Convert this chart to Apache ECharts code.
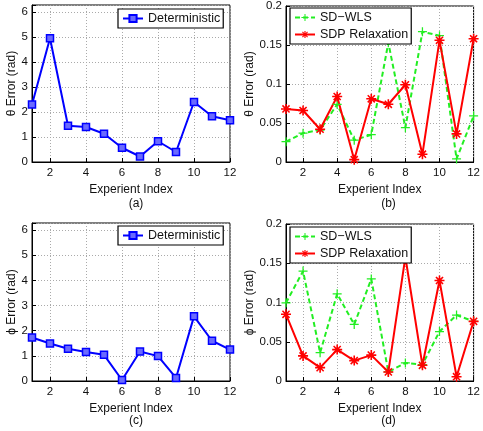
<!DOCTYPE html>
<html>
<head>
<meta charset="utf-8">
<script src="https://cdn.jsdelivr.net/npm/echarts@6/dist/echarts.min.js"></script>
<style>
  html, body { margin: 0; padding: 0; background: #fff; }
  #chart { width: 483px; height: 431px; }
</style>
</head>
<body>
<div id="chart"></div>
<script>
// data
var idx = ['1','2','3','4','5','6','7','8','9','10','11','12'];
var thetaDet = [2.3, 4.95, 1.45, 1.4, 1.13, 0.57, 0.22, 0.83, 0.4, 2.4, 1.83, 1.67];
var thetaWls = [0.026, 0.037, 0.041, 0.074, 0.028, 0.035, 0.153, 0.044, 0.167, 0.162, 0.004, 0.059];
var thetaSdp = [0.068, 0.066, 0.042, 0.084, 0.003, 0.081, 0.074, 0.099, 0.010, 0.156, 0.036, 0.158];
var phiDet = [1.73, 1.49, 1.28, 1.15, 1.04, 0.04, 1.17, 0.99, 0.12, 2.57, 1.6, 1.25];
var phiWls = [0.0996, 0.14, 0.036, 0.111, 0.072, 0.13, 0.0115, 0.023, 0.021, 0.063, 0.084, 0.076];
var phiSdp = [0.085, 0.032, 0.017, 0.040, 0.026, 0.033, 0.0115, 0.158, 0.020, 0.128, 0.0055, 0.076];
var captions = ['(a)', '(b)', '(c)', '(d)'];

var FONT = 'Liberation Sans, Arial, sans-serif';
var plusPath = 'path://M4.3,0H5.7V4.3H10V5.7H5.7V10H4.3V5.7H0V4.3H4.3Z';
var starPath = 'path://M4.2,0H5.8V3.1L8,0.9 9.1,2 6.9,4.2H10V5.8H6.9L9.1,8 8,9.1 5.8,6.9V10H4.2V6.9L2,9.1 0.9,8 3.1,5.8H0V4.2H3.1L0.9,2 2,0.9 4.2,3.1Z';

// grid boxes (a) (b) (c) (d)
var grids = [
  {left: 32, top: 5, width: 198, height: 157},
  {left: 286, top: 5, width: 195, height: 157},
  {left: 32, top: 223, width: 198, height: 158},
  {left: 286, top: 224, width: 195, height: 157}
];

var dotted = {show: true, lineStyle: {color: '#aaa', type: [1, 2], width: 1}};
var evenOnly = function (i) { return i % 2 === 1; };

var xAxes = grids.map(function (g, k) {
  return {
    gridIndex: k, type: 'category', data: idx, boundaryGap: false,
    name: 'Experient Index', nameLocation: 'middle', nameGap: 22,
    nameTextStyle: {fontFamily: FONT, fontSize: 12, color: '#111'},
    axisLine: {lineStyle: {color: '#000', width: 1}},
    axisTick: {inside: true, length: 4, interval: evenOnly, lineStyle: {color: '#000'}},
    axisLabel: {interval: evenOnly, fontFamily: FONT, fontSize: 11.5, color: '#111', margin: 5},
    splitLine: {show: true, interval: evenOnly, lineStyle: dotted.lineStyle}
  };
});

function yAxis(k, max, interval, name, gap) {
  return {
    gridIndex: k, type: 'value', min: 0, max: max, interval: interval,
    name: name, nameLocation: 'middle', nameGap: gap,
    nameTextStyle: {fontFamily: FONT, fontSize: 12, color: '#111'},
    axisLine: {show: true, lineStyle: {color: '#000', width: 1}},
    axisTick: {show: true, inside: true, length: 4, lineStyle: {color: '#000'}},
    axisLabel: {
      fontFamily: FONT, fontSize: 11.5, color: '#111', margin: 4,
      formatter: function (v) {
        var r = Math.round(v / interval);
        return Math.abs(v - r * interval) < 1e-9 ? String(+(r * interval).toFixed(2)) : '';
      }
    },
    splitLine: dotted
  };
}

var yAxes = [
  yAxis(0, 2 * Math.PI, 1, 'θ Error (rad)', 13),
  yAxis(1, 0.2, 0.05, 'θ Error (rad)', 26),
  yAxis(2, 2 * Math.PI, 1, 'ϕ Error (rad)', 13),
  yAxis(3, 0.2, 0.05, 'ϕ Error (rad)', 26)
];

function detSeries(k, data) {
  return {
    name: 'Deterministic', type: 'line', xAxisIndex: k, yAxisIndex: k, data: data,
    symbol: 'rect', symbolSize: 7, showAllSymbol: true,
    lineStyle: {color: '#0000ff', width: 2},
    itemStyle: {color: '#6a6aff', borderColor: '#0000ff', borderWidth: 1.5}
  };
}
function wlsSeries(k, data) {
  return {
    name: 'SD\u2212WLS', type: 'line', xAxisIndex: k, yAxisIndex: k, data: data,
    symbol: plusPath, symbolSize: 9, showAllSymbol: true,
    lineStyle: {color: '#22ee22', width: 2, type: [5, 3]},
    itemStyle: {color: '#22ee22'}
  };
}
function sdpSeries(k, data) {
  return {
    name: 'SDP Relaxation', type: 'line', xAxisIndex: k, yAxisIndex: k, data: data,
    symbol: starPath, symbolSize: 10, showAllSymbol: true,
    lineStyle: {color: '#ff0000', width: 2},
    itemStyle: {color: '#ff0000'}
  };
}

var legendBase = {
  orient: 'vertical', backgroundColor: '#fff', borderColor: '#000', borderWidth: 1.2,
  itemWidth: 20, itemHeight: 9, itemGap: 4, padding: [3, 3, 3, 4],
  textStyle: {fontFamily: FONT, fontSize: 12.5, color: '#111'}
};
function legendAt(left, top, names) {
  return Object.assign({}, legendBase, {left: left, top: top, data: names});
}

var option = {
  animation: false,
  backgroundColor: '#fff',
  title: captions.map(function (c, k) {
    var g = grids[k];
    return {
      text: c, left: g.left + g.width / 2, top: k < 2 ? 193 : 410, textAlign: 'center',
      textStyle: {fontFamily: FONT, fontSize: 12, fontWeight: 'normal', color: '#111'}
    };
  }),
  grid: grids.map(function (g) {
    return Object.assign({show: true, borderColor: '#000', borderWidth: 1, backgroundColor: 'transparent'}, g);
  }),
  legend: [
    legendAt(118, 9, ['Deterministic']),
    legendAt(290, 8, ['SD\u2212WLS', 'SDP Relaxation']),
    legendAt(118, 226, ['Deterministic']),
    legendAt(290, 227, ['SD\u2212WLS', 'SDP Relaxation'])
  ],
  xAxis: xAxes,
  yAxis: yAxes,
  series: [
    detSeries(0, thetaDet),
    wlsSeries(1, thetaWls),
    sdpSeries(1, thetaSdp),
    detSeries(2, phiDet),
    wlsSeries(3, phiWls),
    sdpSeries(3, phiSdp)
  ]
};

var myChart = echarts.init(document.getElementById('chart'), null, {renderer: 'canvas'});
myChart.setOption(option);
</script>
</body>
</html>
